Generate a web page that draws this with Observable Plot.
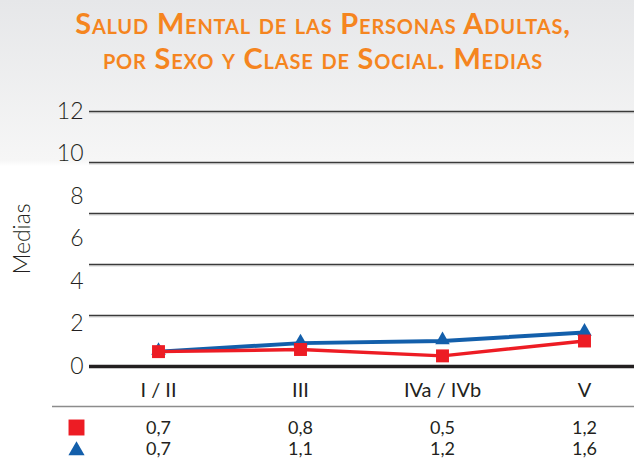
<!DOCTYPE html>
<html>
<head>
<meta charset="utf-8">
<script src="https://cdn.jsdelivr.net/npm/d3@7"></script>
<script src="https://cdn.jsdelivr.net/npm/@observablehq/plot@0.6"></script>
<style>
  html, body { margin: 0; padding: 0; }
  body {
    width: 634px; height: 459px; overflow: hidden;
    background: linear-gradient(to bottom, #e6e7e9 0px, #f6f6f6 160px, #ffffff 166px, #ffffff 459px);
    font-family: Lato, "Open Sans", sans-serif;
  }
  #title {
    height: 75px; box-sizing: border-box; padding-top: 5px; padding-left: 12px;
    text-align: center; color: #f5851f; font-weight: bold; font-variant: small-caps;
    font-size: 29px; line-height: 35px; letter-spacing: 0.8px;
  }
  #chart svg { display: block; }
</style>
</head>
<body>
<div id="title">Salud Mental de las Personas Adultas,<br>por Sexo y Clase de Social. Medias</div>
<div id="chart"></div>
<script>
const categories = ["I / II", "III", "IVa / IVb", "V"];
const seriesRed = [0.7, 0.8, 0.5, 1.2];
const seriesBlue = [0.7, 1.1, 1.2, 1.6];
const yTicks = [0, 2, 4, 6, 8, 10, 12];
const gridLines = [2.4, 4.8, 7.2, 9.6, 12];
const yLabel = "Medias";

const RED = "#ed1c24";
const BLUE = "#135fab";
const INK = "#231f20";

const fmt = v => v.toFixed(1).replace(".", ",");
const rows = categories.map((c, i) => ({cat: c, red: seriesRed[i], blue: seriesBlue[i]}));

const chart = Plot.plot({
  width: 634,
  height: 384,
  marginTop: 36,
  marginBottom: 93,
  marginLeft: 89,
  marginRight: 0,
  style: {background: "transparent", color: INK, fontFamily: "Lato, 'Open Sans', sans-serif", overflow: "visible"},
  x: {type: "point", domain: categories, padding: 0.352, insetLeft: 19, axis: null},
  y: {domain: [0, 12], axis: null},
  marks: [
    Plot.ruleY(gridLines, {stroke: "#d4d4d4", strokeWidth: 1.2, dy: 1.5}),
    Plot.ruleY(gridLines, {stroke: "#3a3a3a", strokeWidth: 1.4}),
    Plot.ruleY([0], {stroke: INK, strokeWidth: 3.4}),
    Plot.ruleY([0], {stroke: "#8c8c8c", strokeWidth: 1.6, dy: 40, insetLeft: -37}),
    Plot.axisY({ticks: yTicks, tickSize: 0, tickPadding: 6, fontSize: 23, fontWeight: 300, label: null, fill: INK}),
    Plot.text([yLabel], {frameAnchor: "left", textAnchor: "middle", dx: -67, rotate: -90, fontSize: 23, fontWeight: 300, fill: INK}),
    Plot.line(rows, {x: "cat", y: "blue", stroke: BLUE, strokeWidth: 4}),
    Plot.dot(rows, {x: "cat", y: "blue", symbol: "triangle", r: 5.4, fill: BLUE, dy: -1}),
    Plot.line(rows, {x: "cat", y: "red", stroke: RED, strokeWidth: 3.5}),
    Plot.dot(rows, {x: "cat", y: "red", symbol: "square", r: 7.3, fill: RED}),
    Plot.text(rows, {x: "cat", text: "cat", frameAnchor: "bottom", dy: 24, fontSize: 20, lineAnchor: "middle", fill: INK}),
    Plot.text(rows, {x: "cat", text: d => fmt(d.red), frameAnchor: "bottom", dy: 62, fontSize: 18, lineAnchor: "middle", fill: INK}),
    Plot.text(rows, {x: "cat", text: d => fmt(d.blue), frameAnchor: "bottom", dy: 83, fontSize: 18, lineAnchor: "middle", fill: INK}),
    Plot.dot([0], {frameAnchor: "bottom-left", dx: -13, dy: 61, symbol: "square", r: 9, fill: RED}),
    Plot.dot([0], {frameAnchor: "bottom-left", dx: -13, dy: 84, symbol: "triangle", r: 6, fill: BLUE})
  ]
});
document.getElementById("chart").appendChild(chart);
</script>
</body>
</html>
